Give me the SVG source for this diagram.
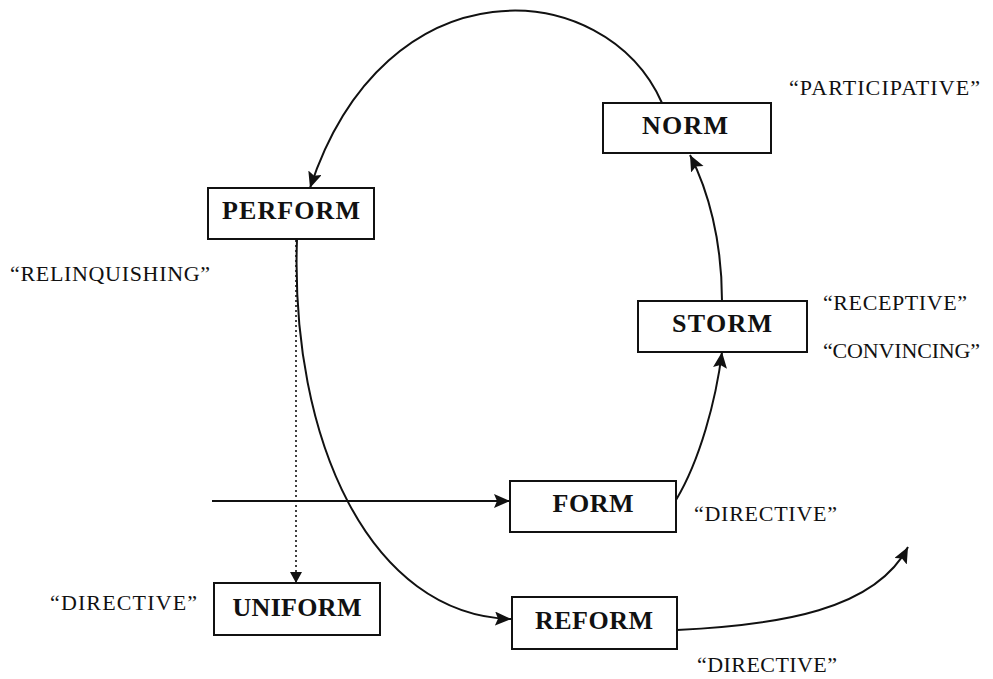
<svg xmlns="http://www.w3.org/2000/svg" width="993" height="679" viewBox="0 0 993 679">
<defs>
<style>
.box{fill:#fff;stroke:#111;stroke-width:2}
.lbl{font-family:"Liberation Serif",serif;font-weight:bold;font-size:26px;fill:#111;text-anchor:middle}
.note{font-family:"Liberation Serif",serif;font-size:22px;fill:#111}
.edge{fill:none;stroke:#111;stroke-width:2}
.dot{fill:none;stroke:#111;stroke-width:1.6;stroke-dasharray:2 3}
</style>
<marker id="arr" markerUnits="userSpaceOnUse" markerWidth="18" markerHeight="16" refX="16" refY="7" orient="auto">
<path d="M0,0 L16,7 L0,14 L3,7 Z" fill="#111"/>
</marker>
<marker id="arrs" markerUnits="userSpaceOnUse" markerWidth="14" markerHeight="12" refX="11" refY="6" orient="auto">
<path d="M0,0 L11,6 L0,12 Z" fill="#111"/>
</marker>
</defs>
<g id="connectors">
<path class="edge" d="M662,103 C605,-25 385,-40 310,188" marker-end="url(#arr)"/>
<path class="edge" d="M722,301 C722,240 708,190 690,155" marker-end="url(#arr)"/>
<path class="edge" d="M676,500 C700,460 716,400 722,352" marker-end="url(#arr)"/>
<path class="edge" d="M212,501 L510,501" marker-end="url(#arr)"/>
<path class="edge" d="M297,239 C290,440 370,615 511,619" marker-end="url(#arr)"/>
<path class="dot" d="M296,240 L296,583" marker-end="url(#arrs)"/>
<path class="edge" d="M677,630 C780,625 875,610 908,547" marker-end="url(#arr)"/>
</g>
<g id="norm">
<rect class="box" x="603" y="103" width="168" height="50"/>
<text class="lbl" x="685" y="134" textLength="86">NORM</text>
</g>
<g id="perform">
<rect class="box" x="208" y="188" width="166" height="51"/>
<text class="lbl" x="291" y="219" textLength="138">PERFORM</text>
</g>
<g id="storm">
<rect class="box" x="638" y="301" width="169" height="51"/>
<text class="lbl" x="722" y="332" textLength="100">STORM</text>
</g>
<g id="form">
<rect class="box" x="510" y="481" width="166" height="51"/>
<text class="lbl" x="593" y="512" textLength="81">FORM</text>
</g>
<g id="uniform">
<rect class="box" x="214" y="583" width="166" height="52"/>
<text class="lbl" x="297" y="616" textLength="129">UNIFORM</text>
</g>
<g id="reform">
<rect class="box" x="512" y="597" width="165" height="52"/>
<text class="lbl" x="594" y="629" textLength="118">REFORM</text>
</g>
<g id="notes">
<text class="note" x="789" y="95" textLength="191">“PARTICIPATIVE”</text>
<text class="note" x="823" y="310" textLength="144">“RECEPTIVE”</text>
<text class="note" x="823" y="358" textLength="157">“CONVINCING”</text>
<text class="note" x="10" y="281" textLength="200">“RELINQUISHING”</text>
<text class="note" x="694" y="521" textLength="143">“DIRECTIVE”</text>
<text class="note" x="50" y="610" textLength="147">“DIRECTIVE”</text>
<text class="note" x="697" y="672" textLength="140">“DIRECTIVE”</text>
</g>
</svg>
